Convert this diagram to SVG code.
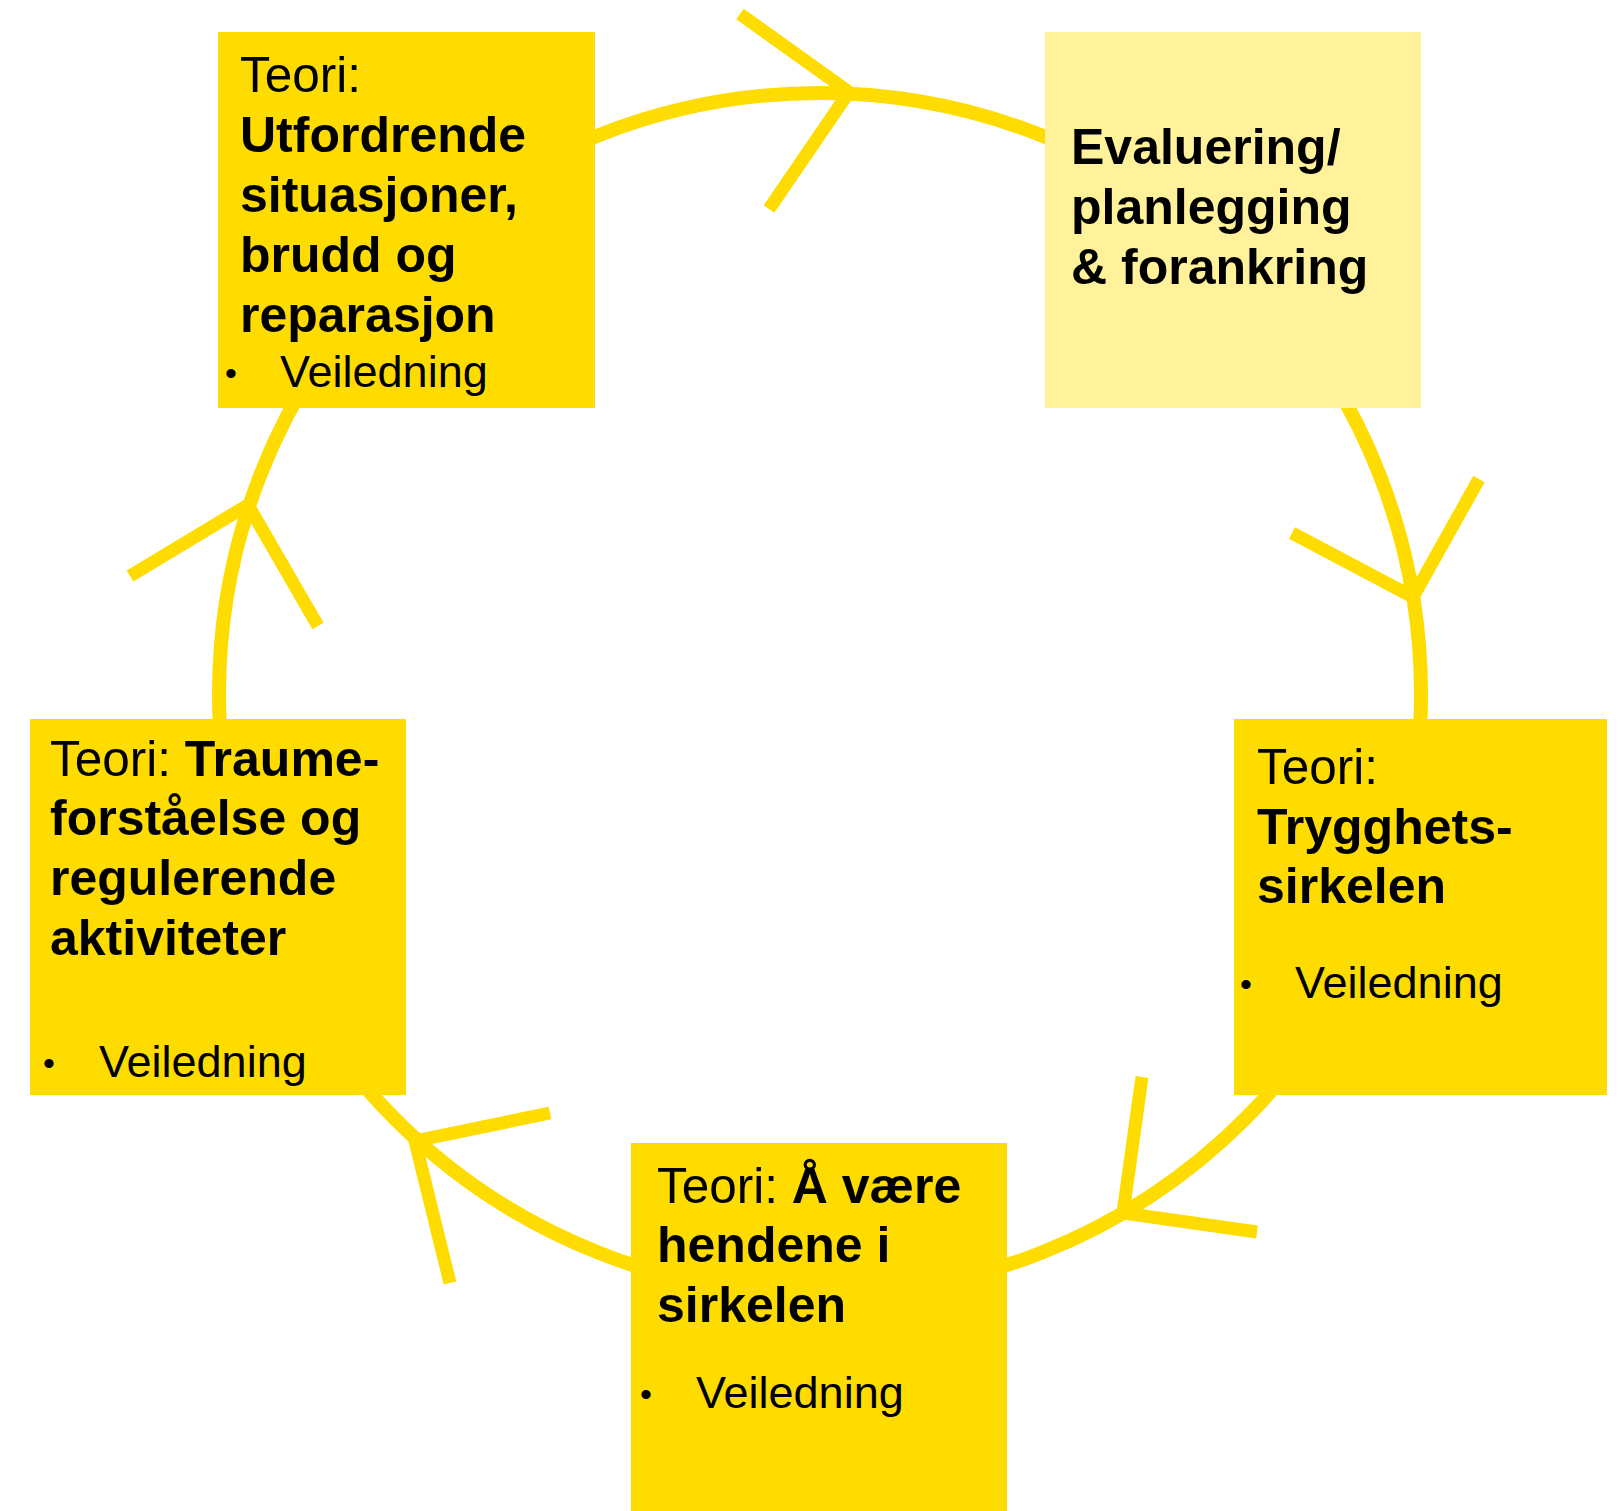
<svg xmlns="http://www.w3.org/2000/svg" width="1619" height="1511" viewBox="0 0 1619 1511">
<style>
.box{fill:#FFDC00}
.pale{fill:#FFF29A}
.t{font-family:"Liberation Sans",Arial,sans-serif;fill:#000}
.r{font-size:49.5px}
.b{font-size:50px;font-weight:bold}
.v{font-size:45px}
.bu{font-size:34px}
.ring{fill:none;stroke:#FFDC00;stroke-width:14}
.arr{fill:none;stroke:#FFDC00;stroke-width:13;stroke-linejoin:miter;stroke-linecap:butt}
</style>
<rect width="1619" height="1511" fill="#ffffff"/>
<g id="connectors">
<circle class="ring" cx="820" cy="694" r="601"/>
<polyline class="arr" points="740,14 849,92 769,209"/>
<polyline class="arr" points="1292,533 1413,597 1479,479"/>
<polyline class="arr" points="1142,1077 1123,1213 1257,1232"/>
<polyline class="arr" points="550,1113 415,1141 450,1283"/>
<polyline class="arr" points="130,576 248,505 318,626"/>
</g>
<g id="node-utfordrende">
<rect class="box" x="218" y="32" width="377" height="376"/>
<text class="t r" x="240" y="92">Teori:</text>
<text class="t b" x="240" y="152">Utfordrende</text>
<text class="t b" x="240" y="212">situasjoner,</text>
<text class="t b" x="240" y="272">brudd og</text>
<text class="t b" x="240" y="332">reparasjon</text>
<text class="t bu" x="225" y="385">•</text>
<text class="t v" x="280" y="387">Veiledning</text>
</g>
<g id="node-evaluering">
<rect class="pale" x="1045" y="32" width="376" height="376"/>
<text class="t b" x="1071" y="164">Evaluering/</text>
<text class="t b" x="1071" y="224">planlegging</text>
<text class="t b" x="1071" y="284">&amp; forankring</text>
</g>
<g id="node-trygghet">
<rect class="box" x="1234" y="719" width="373" height="376"/>
<text class="t r" x="1257" y="784">Teori:</text>
<text class="t b" x="1257" y="844">Trygghets-</text>
<text class="t b" x="1257" y="903">sirkelen</text>
<text class="t bu" x="1240" y="996">•</text>
<text class="t v" x="1295" y="998">Veiledning</text>
</g>
<g id="node-hendene">
<rect class="box" x="631" y="1143" width="376" height="376"/>
<text class="t" x="657" y="1203"><tspan class="r">Teori: </tspan><tspan class="b">Å være</tspan></text>
<text class="t b" x="657" y="1262">hendene i</text>
<text class="t b" x="657" y="1322">sirkelen</text>
<text class="t bu" x="640" y="1406">•</text>
<text class="t v" x="696" y="1408">Veiledning</text>
</g>
<g id="node-traume">
<rect class="box" x="30" y="719" width="376" height="376"/>
<text class="t" x="50" y="776"><tspan class="r">Teori: </tspan><tspan class="b">Traume-</tspan></text>
<text class="t b" x="50" y="835">forståelse og</text>
<text class="t b" x="50" y="895">regulerende</text>
<text class="t b" x="50" y="955">aktiviteter</text>
<text class="t bu" x="43" y="1075">•</text>
<text class="t v" x="99" y="1077">Veiledning</text>
</g>
</svg>
